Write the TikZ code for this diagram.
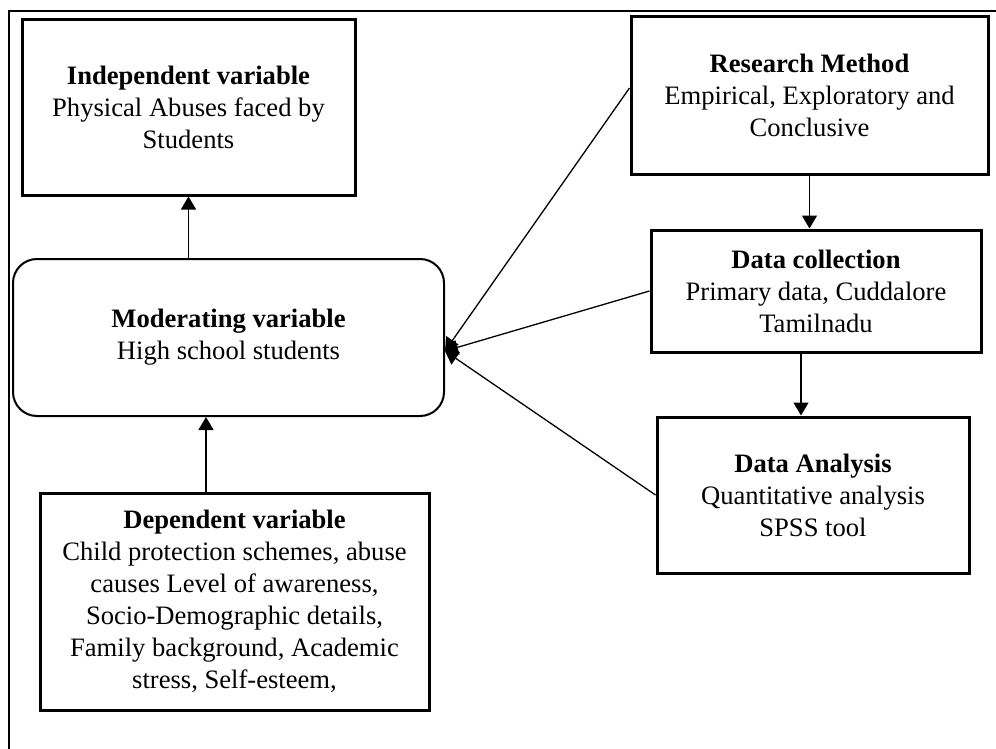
\documentclass[tikz,border=0pt]{standalone}
\usepackage{fontspec}
\setmainfont{Liberation Serif}
\usetikzlibrary{arrows.meta,positioning}

\begin{document}
\begin{tikzpicture}[x=0.5pt,y=-0.5pt,>={Triangle[length=6.5pt,width=7.5pt]},
  box/.style={draw,line width=1.5pt,align=center,inner sep=0pt,
    font=\fontsize{13.3}{16}\selectfont},
  link/.style={->,line width=0.65pt}]
	  \useasboundingbox (0,0) rectangle (996,749);
	  \draw[line width=1pt] (9,749) -- (9,11) -- (996,11);
	  \node[box,minimum width=166.5pt,minimum height=87.5pt] (indep) at (188.5,107.5)
	    {\textbf{Independent variable}\\Physical Abuses faced by\\Students};
	  \node[box,line width=1pt,rounded corners=12pt,minimum width=215.5pt,minimum height=78.5pt] (mod) at (228.5,337.5)
	    {\textbf{Moderating variable}\\High school students};
	  \node[box,minimum width=194.5pt,minimum height=108.5pt] (dep) at (234.5,601.5)
	    {\textbf{Dependent variable}\\Child protection schemes, abuse\\causes Level of awareness,\\Socio-Demographic details,\\Family background, Academic\\stress, Self-esteem,};
	  \node[box,minimum width=178.5pt,minimum height=78.5pt] (rm) at (809.5,95.5)
	    {\textbf{Research Method}\\Empirical, Exploratory and\\Conclusive};
	  \node[box,minimum width=165pt,minimum height=61pt] (dc) at (816,291)
	    {\textbf{Data collection}\\Primary data, Cuddalore\\Tamilnadu};
	  \node[box,minimum width=156pt,minimum height=78pt] (da) at (813,495)
	    {\textbf{Data Analysis}\\Quantitative analysis\\SPSS tool};
	  \coordinate (hub) at ([yshift=-6.75pt]mod.east);
	  \draw[link] (mod.north -| indep.south) -- (indep.south);
	  \draw[link] ([xshift=-14.25pt]dep.north) -- ([xshift=-14.25pt]dep.north |- mod.south);
	  \draw[link] (rm.south) -- (rm.south |- dc.north);
	  \draw[link] ([xshift=-7.5pt]dc.south) -- ([xshift=-7.5pt]dc.south |- da.north);
	  \draw[link] ([yshift=3.75pt]rm.west) -- (hub);
	  \draw[link] (dc.west) -- (hub);
	  \draw[link] (da.west) -- (hub);
	\end{tikzpicture}
\end{document}
